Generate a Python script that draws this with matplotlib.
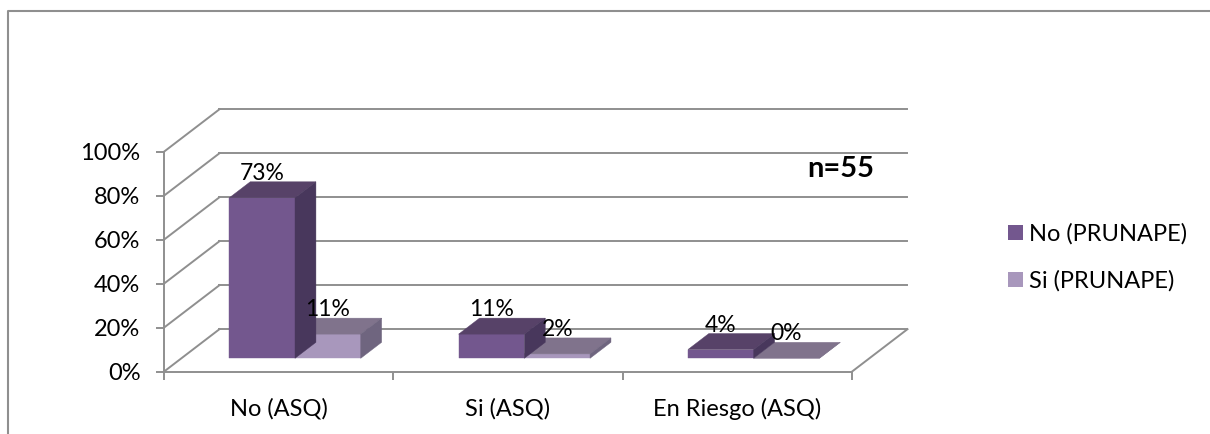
import matplotlib.pyplot as plt
from matplotlib.lines import Line2D
from matplotlib.patches import Patch, Polygon

plt.rcParams['font.family'] = ['Lato', 'DejaVu Sans']

categories = ['No (ASQ)', 'Si (ASQ)', 'En Riesgo (ASQ)']
no_prunape = [73, 11, 4]
si_prunape = [11, 2, 0]
series_names = ['No (PRUNAPE)', 'Si (PRUNAPE)']
y_ticks = [0, 20, 40, 60, 80, 100]

W, H = 1210, 434
GRAY = '#8f8f8f'
# front, top and side faces of each series
DARK = ('#73578e', '#574268', '#48375c')
LIGHT = ('#a897bc', '#80738c', '#6f657f')
FONT = 17

# oblique offset of the back wall, in data units
DEPTH_X = 0.242
DEPTH_Y = 19.3
BAR_LEFT = 0.209
BAR_W = 0.2865
BAR_D0 = 0.313
BAR_D1 = 0.69


def proj(x, y, d):
    return x + d * DEPTH_X, y + d * DEPTH_Y


def draw_bar(ax, x, val, cols, z):
    x1 = x + BAR_W
    front = [proj(x, 0, BAR_D0), proj(x1, 0, BAR_D0), proj(x1, val, BAR_D0), proj(x, val, BAR_D0)]
    top = [proj(x, val, BAR_D0), proj(x1, val, BAR_D0), proj(x1, val, BAR_D1), proj(x, val, BAR_D1)]
    side = [proj(x1, 0, BAR_D0), proj(x1, 0, BAR_D1), proj(x1, val, BAR_D1), proj(x1, val, BAR_D0)]
    for pts, c in zip((front, top, side), cols):
        ax.add_patch(Polygon(pts, closed=True, facecolor=c, edgecolor=c, lw=0.3,
                             zorder=z, clip_on=False))


def draw_label(ax, x, val, z=10):
    tx = proj(x + BAR_W / 2, val, BAR_D0)[0]
    ty = proj(x, val, BAR_D1)[1]
    ax.text(tx, ty + 3.8, f'{val}%', ha='center', va='center',
            fontsize=16.5, color='black', zorder=z)


fig = plt.figure(figsize=(W / 100, H / 100), dpi=100, facecolor='white')
ax = fig.add_axes([164 / W, 1 - 371.6 / H, 688 / W, 219.9 / H])
ax.patch.set_alpha(0)
ax.set_xlim(0, 3)
ax.set_ylim(0, 100)

for s in ('top', 'right'):
    ax.spines[s].set_visible(False)
for s in ('left', 'bottom'):
    ax.spines[s].set_color(GRAY)
    ax.spines[s].set_linewidth(1.4)

ax.set_yticks(y_ticks)
ax.set_yticklabels([f'{v}%' for v in y_ticks], fontsize=FONT)
ax.set_xticks(range(4))
ax.set_xticklabels([])
ax.set_xticks([0.5, 1.5, 2.5], minor=True)
ax.set_xticklabels(categories, minor=True, fontsize=FONT)
ax.tick_params(axis='both', which='major', length=6, width=1.4, color=GRAY)
ax.tick_params(axis='y', pad=11)
ax.tick_params(axis='x', which='minor', length=0, pad=19)

# walls and floor
for v in y_ticks:
    bx0, by0 = proj(0, v, 1)
    bx1, by1 = proj(3, v, 1)
    ax.plot([bx0, bx1], [by0, by1], color=GRAY, lw=1.4, clip_on=False, zorder=1)
    ax.plot([0, bx0], [v, by0], color=GRAY, lw=1.4, clip_on=False, zorder=1)
fx, fy = proj(3, 0, 1)
ax.plot([3, fx], [0, fy], color=GRAY, lw=1.4, clip_on=False, zorder=1)

# bars, back to front within each group so the dark side covers the light top
for i in range(len(categories)):
    draw_bar(ax, i + BAR_LEFT + BAR_W, si_prunape[i], LIGHT, 3)
    draw_bar(ax, i + BAR_LEFT, no_prunape[i], DARK, 4)
    draw_label(ax, i + BAR_LEFT, no_prunape[i])
    draw_label(ax, i + BAR_LEFT + BAR_W, si_prunape[i])

fig.text(840.5 / W, 1 - 169 / H, 'n=55', ha='center', va='center',
         fontsize=21, fontweight='bold')

handles = [Patch(facecolor=DARK[0], edgecolor='none'), Patch(facecolor=LIGHT[0], edgecolor='none')]
fig.legend(handles, series_names, loc='center left', bbox_to_anchor=(1008 / W, 1 - 257.5 / H),
           frameon=False, fontsize=FONT, handlelength=0.64, handleheight=0.64,
           handletextpad=0.25, labelspacing=1.07, borderpad=0, borderaxespad=0)

# outer chart frame
fig.add_artist(Line2D([8 / W, 8 / W, 1], [0, 1 - 10.5 / H, 1 - 10.5 / H], color=GRAY, lw=1.5))

fig.savefig('out.png', dpi=100)
